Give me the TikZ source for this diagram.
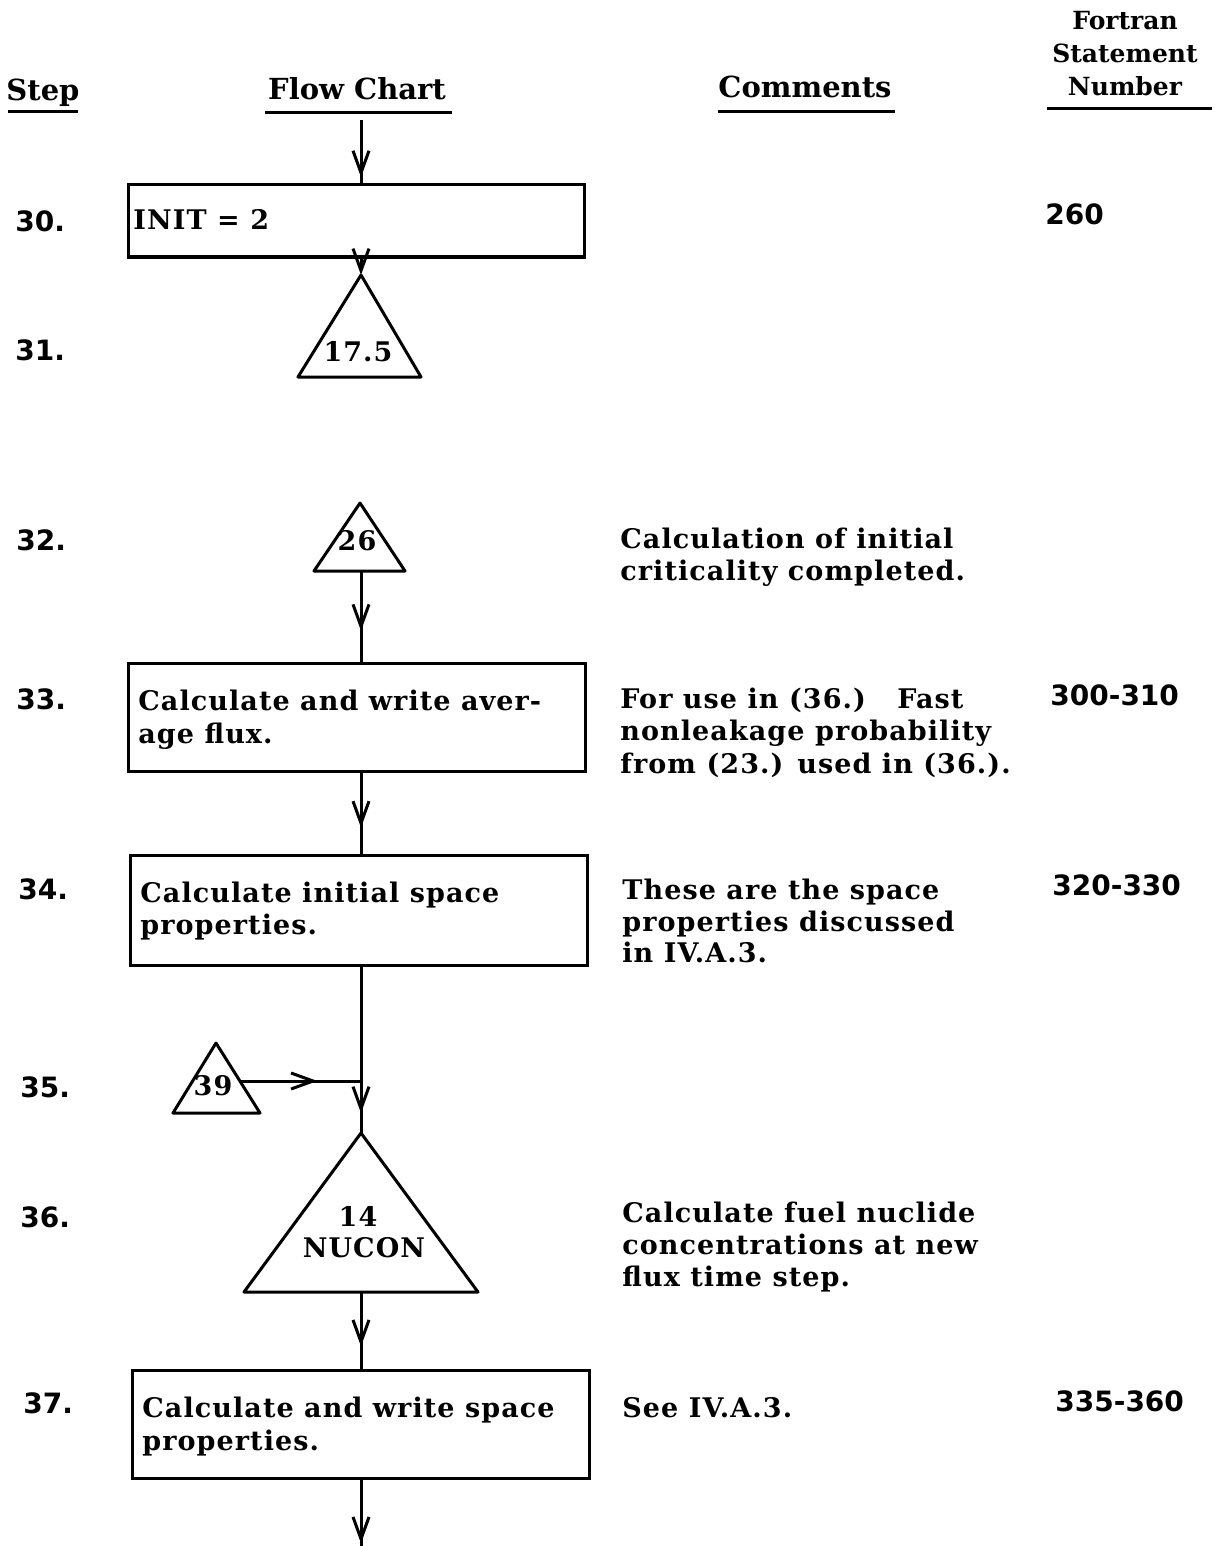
\documentclass[tikz,border=0pt]{standalone}
\usepackage{fontspec}
\setmainfont{DejaVu Serif}
\newfontfamily\txtfont{DejaVu Serif}[LetterSpace=4]
\newfontfamily\numfont{DejaVu Sans}
\usetikzlibrary{arrows.meta,decorations.markings}
\begin{document}
\begin{tikzpicture}[x=0.5pt,y=-0.5pt,
  ln/.style={line width=1.5pt},
  barb/.tip={Straight Barb[length=11pt,width=8pt]},
  midarrow/.style={postaction={decorate,decoration={markings,mark=at position #1 with {\arrow{barb}}}}},
  txt/.style={anchor=base west,inner sep=0pt,font=\txtfont\fontsize{13.5}{16}\selectfont\bfseries},
  num/.style={anchor=base west,inner sep=0pt,font=\numfont\fontsize{14}{16}\selectfont\bfseries},
  ctxt/.style={anchor=base,inner sep=0pt,font=\txtfont\fontsize{13.5}{16}\selectfont\bfseries},
  hdr/.style={anchor=base,inner sep=0pt,font=\fontsize{14.5}{17}\selectfont\bfseries},
  hdrs/.style={anchor=base,inner sep=0pt,font=\fontsize{12.5}{15}\selectfont\bfseries},
  box/.style={draw,line width=1.5pt,inner sep=0pt,minimum width=228.5pt}]
\useasboundingbox (0,0) rectangle (1215,1546);
\coordinate (spine) at (361,0);

% headers
\node[hdr] (hstep) at (43,101) {Step};
\node[hdr] (hflow) at (357,100) {Flow Chart};
\node[hdr] (hcom) at (805,98) {Comments};
\node[hdrs] (hf1) at (1125,30) {Fortran};
\node[hdrs] (hf2) at (1125,63) {Statement};
\node[hdrs] (hf3) at (1125,96) {Number};
\draw[ln] (8,112) -- (78,112);
\draw[ln] (265,113) -- (452,113);
\draw[ln] (718,112) -- (895,112);
\draw[ln] (1047,109) -- (1212,109);

% step numbers
\node[num] (s30) at (15,232) {30.};
\node[num] (s31) at (15,360) {31.};
\node[num] (s32) at (16,550) {32.};
\node[num] (s33) at (16,709) {33.};
\node[num] (s34) at (18,899) {34.};
\node[num] (s35) at (20,1097) {35.};
\node[num] (s36) at (20,1227) {36.};
\node[num] (s37) at (23,1413) {37.};

% boxes
\node[box,minimum width=228pt,minimum height=36pt] (b30) at (356,221) {};
\node[box,minimum height=54pt] (b33) at (356.5,717) {};
\node[box,minimum height=55pt] (b34) at (358.5,910) {};
\node[box,minimum height=54pt] (b37) at (360.5,1424) {};

\node[txt] (t30a) at (133,230) {INIT = 2};
\node[txt] (t33a) at (138,710) {Calculate and write aver-};
\node[txt] (t33b) at (138,743) {age flux.};
\node[txt] (t34a) at (140,902) {Calculate initial space};
\node[txt] (t34b) at (140,934) {properties.};
\node[txt] (t37a) at (142,1417) {Calculate and write space};
\node[txt] (t37b) at (142,1450) {properties.};

% triangles
\coordinate (t31) at (361,275);
\draw[ln,line join=round] (t31) -- (421,377) -- (298,377) -- cycle;
\node[ctxt] (l31) at (358,361) {17.5};

\coordinate (t32) at (360,503);
\coordinate (t32b) at (361,571);
\draw[ln,line join=round] (t32) -- (405,571) -- (314,571) -- cycle;
\node[ctxt] (l32) at (357,550) {26};

\coordinate (t35) at (216,1043);
\coordinate (t35r) at (240,1081);
\draw[ln,line join=round] (t35) -- (260,1113) -- (173,1113) -- cycle;
\node[ctxt] (l35) at (213,1095) {39};

\coordinate (t36) at (361,1133);
\coordinate (t36b) at (361,1292);
\draw[ln,line join=round] (t36) -- (478,1292) -- (244,1292) -- cycle;
\node[ctxt] (l36a) at (358,1226) {14};
\node[ctxt] (l36b) at (364,1257) {NUCON};

% connectors
\coordinate (start) at (361,120);
\coordinate (join) at (361,1081);
\coordinate (finish) at (361,1546);
\draw[ln,midarrow=0.9] (start) -- (b30.north -| spine);
\draw[ln,-barb] (b30.south -| spine) -- (t31);
\draw[ln,midarrow=0.66] (t32b) -- (b33.north -| spine);
\draw[ln,midarrow=0.68] (b33.south -| spine) -- (b34.north -| spine);
\draw[ln,midarrow=0.88] (b34.south -| spine) -- (t36);
\draw[ln,midarrow=0.64] (t35r) -- (join);
\draw[ln,midarrow=0.71] (t36b) -- (b37.north -| spine);
\draw[ln,midarrow=0.96] (b37.south -| spine) -- (finish);

% comments
\node[txt] (c32a) at (620,548) {Calculation of initial};
\node[txt] (c32b) at (620,580) {criticality completed.};
\node[txt] (c33a) at (620,708) {For use in (36.)\ \ \ Fast};
\node[txt] (c33b) at (620,740) {nonleakage probability};
\node[txt] (c33c) at (620,773) {from (23.) used in (36.).};
\node[txt] (c34a) at (622,899) {These are the space};
\node[txt] (c34b) at (622,931) {properties discussed};
\node[txt] (c34c) at (622,962) {in IV.A.3.};
\node[txt] (c36a) at (622,1222) {Calculate fuel nuclide};
\node[txt] (c36b) at (622,1254) {concentrations at new};
\node[txt] (c36c) at (622,1286) {flux time step.};
\node[txt] (c37a) at (622,1417) {See IV.A.3.};

% statement numbers
\node[num] (f30) at (1045,225) {260};
\node[num] (f33) at (1050,705) {300-310};
\node[num] (f34) at (1052,895) {320-330};
\node[num] (f37) at (1055,1411) {335-360};
\end{tikzpicture}
\end{document}
